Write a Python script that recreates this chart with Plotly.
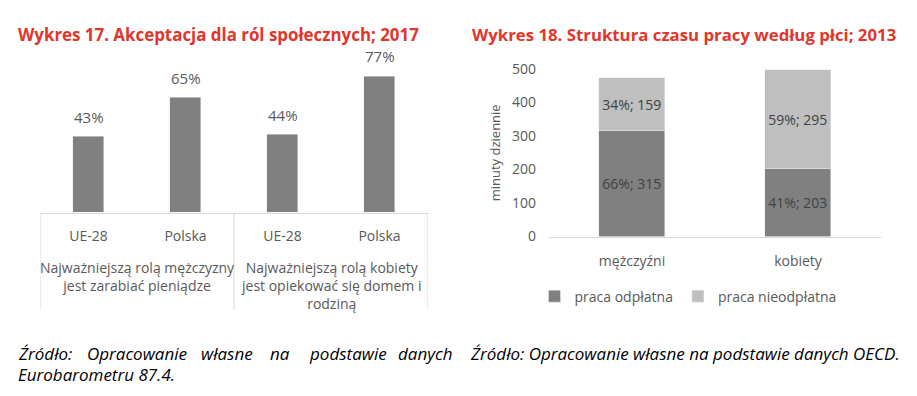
import plotly.graph_objects as go

# ---- data ----
left_groups = ["Najważniejszą rolą mężczyzny<br>jest zarabiać pieniądze",
               "Najważniejszą rolą kobiety<br>jest opiekować się domem i<br>rodziną"]
left_sub = ["UE-28", "Polska"]
left_values = [43, 65, 44, 77]

right_cats = ["mężczyźni", "kobiety"]
paid_pct = [66, 41]
paid_min = [315, 203]
unpaid_pct = [34, 59]
unpaid_min = [159, 295]

src_left_words = ["Źródło:", "Opracowanie", "własne", "na", "podstawie", "danych"]
src_left_line2 = "Eurobarometru 87.4."
src_right = "Źródło: Opracowanie własne na podstawie danych OECD."

TXT = "#595959"
DARK = "#808080"
LIGHT = "#bfbfbf"
AX = "#d9d9d9"
RED = "#e0362c"
FONT = "Open Sans"
W, H = 917, 396


def py(px):
    return (H - px) / H


sub_labels = left_sub * len(left_groups)
pos = list(range(len(sub_labels)))
n_sub = len(left_sub)

fig = go.Figure()
fig.add_trace(go.Bar(
    x=pos, y=left_values, marker_color=DARK, width=0.31,
    showlegend=False, xaxis="x", yaxis="y", hoverinfo="y"))

fig.add_trace(go.Bar(
    x=right_cats, y=paid_min, name="praca odpłatna", marker_color=DARK, width=0.4,
    text=[f"{p}%; {m}" for p, m in zip(paid_pct, paid_min)], textposition="inside",
    insidetextanchor="middle", constraintext="none", textangle=0,
    textfont=dict(size=14, color="#404040", family=FONT),
    xaxis="x2", yaxis="y2"))
fig.add_trace(go.Bar(
    x=right_cats, y=unpaid_min, name="praca nieodpłatna", marker_color=LIGHT, width=0.4,
    text=[f"{p}%; {m}" for p, m in zip(unpaid_pct, unpaid_min)], textposition="inside",
    insidetextanchor="middle", constraintext="none", textangle=0,
    textfont=dict(size=14, color="#404040", family=FONT),
    xaxis="x2", yaxis="y2"))

fig.update_layout(
    width=W, height=H, margin=dict(l=0, r=0, t=0, b=0),
    paper_bgcolor="white", plot_bgcolor="white",
    barmode="stack", bargap=0, font=dict(family=FONT, color=TXT, size=14),
    xaxis=dict(domain=[40/W, 428/W], range=[-0.5, len(pos) - 0.5],
               tickvals=pos, ticktext=sub_labels, showline=True, linecolor=AX,
               ticks="", showgrid=False, zeroline=False, ticklabelstandoff=10,
               tickfont=dict(size=14, color=TXT), anchor="y"),
    yaxis=dict(domain=[py(213), py(45.6)], range=[0, 90], visible=False, anchor="x"),
    xaxis2=dict(domain=[549/W, 881/W], showline=True, linecolor=AX, ticks="",
                tickfont=dict(size=14, color=TXT), range=[-0.5, 1.5], anchor="y2",
                ticklabelstandoff=12),
    yaxis2=dict(domain=[py(238), py(62)], range=[0, 500], dtick=100, showgrid=False,
                showline=False, zeroline=False, tickfont=dict(size=14, color=TXT), anchor="x2",
                ticklabelstandoff=12,
                title=dict(text="minuty dziennie", font=dict(size=13, color=TXT), standoff=8)),
    legend=dict(orientation="h", x=688/W, xanchor="center", y=py(301), yanchor="middle",
                font=dict(size=14, color=TXT), traceorder="normal", itemwidth=30),
)

anns = []
# value labels above left bars (data coordinates)
for p, v in zip(pos, left_values):
    anns.append(dict(x=p, y=v, xref="x", yref="y", text=f"{v}%", yshift=20,
                     yanchor="middle", font=dict(size=15, color=TXT)))
# group labels under left axis
for gi, g in enumerate(left_groups):
    anns.append(dict(x=gi * n_sub + (n_sub - 1) / 2, xref="x", y=py(258), yref="paper",
                     text=g, yanchor="top", align="center", font=dict(size=14, color=TXT)))

anns += [
    dict(text="<b>Wykres 17. Akceptacja dla ról społecznych; 2017</b>", x=16/W, y=py(26),
         xanchor="left", yanchor="middle", font=dict(size=16.9, color=RED)),
    dict(text="<b>Wykres 18. Struktura czasu pracy według płci; 2013</b>", x=470/W, y=py(26),
         xanchor="left", yanchor="middle", font=dict(size=16.8, color=RED)),
    dict(text=f"<i>{src_left_line2}</i>", x=16/W, y=py(383), xanchor="left", yanchor="middle",
         font=dict(size=17, color="#000")),
    dict(text=f"<i>{src_right}</i>", x=468/W, y=py(361),
         xanchor="left", yanchor="middle", font=dict(size=17, color="#000")),
]
# justified left source line: words spread between 18 and 450 px
word_x = [16, 85, 199, 268, 307, 396]
for wx, wd in zip(word_x, src_left_words):
    anns.append(dict(text=f"<i>{wd}</i>", x=wx/W, y=py(361), xanchor="left", yanchor="middle",
                     font=dict(size=17, color="#000")))

for a in anns:
    a.setdefault("xref", "paper")
    a.setdefault("yref", "paper")
    a["showarrow"] = False
fig.update_layout(annotations=anns)

# group divider lines of the left category axis
for xd in [-0.5 + k * n_sub for k in range(len(left_groups) + 1)]:
    fig.add_shape(type="line", xref="x", yref="paper", x0=xd, x1=xd,
                  y0=py(213), y1=py(315), line=dict(color=AX, width=1))

fig.write_html("out.html", config={"displayModeBar": False},
               post_script="document.body.style.margin='0';")
